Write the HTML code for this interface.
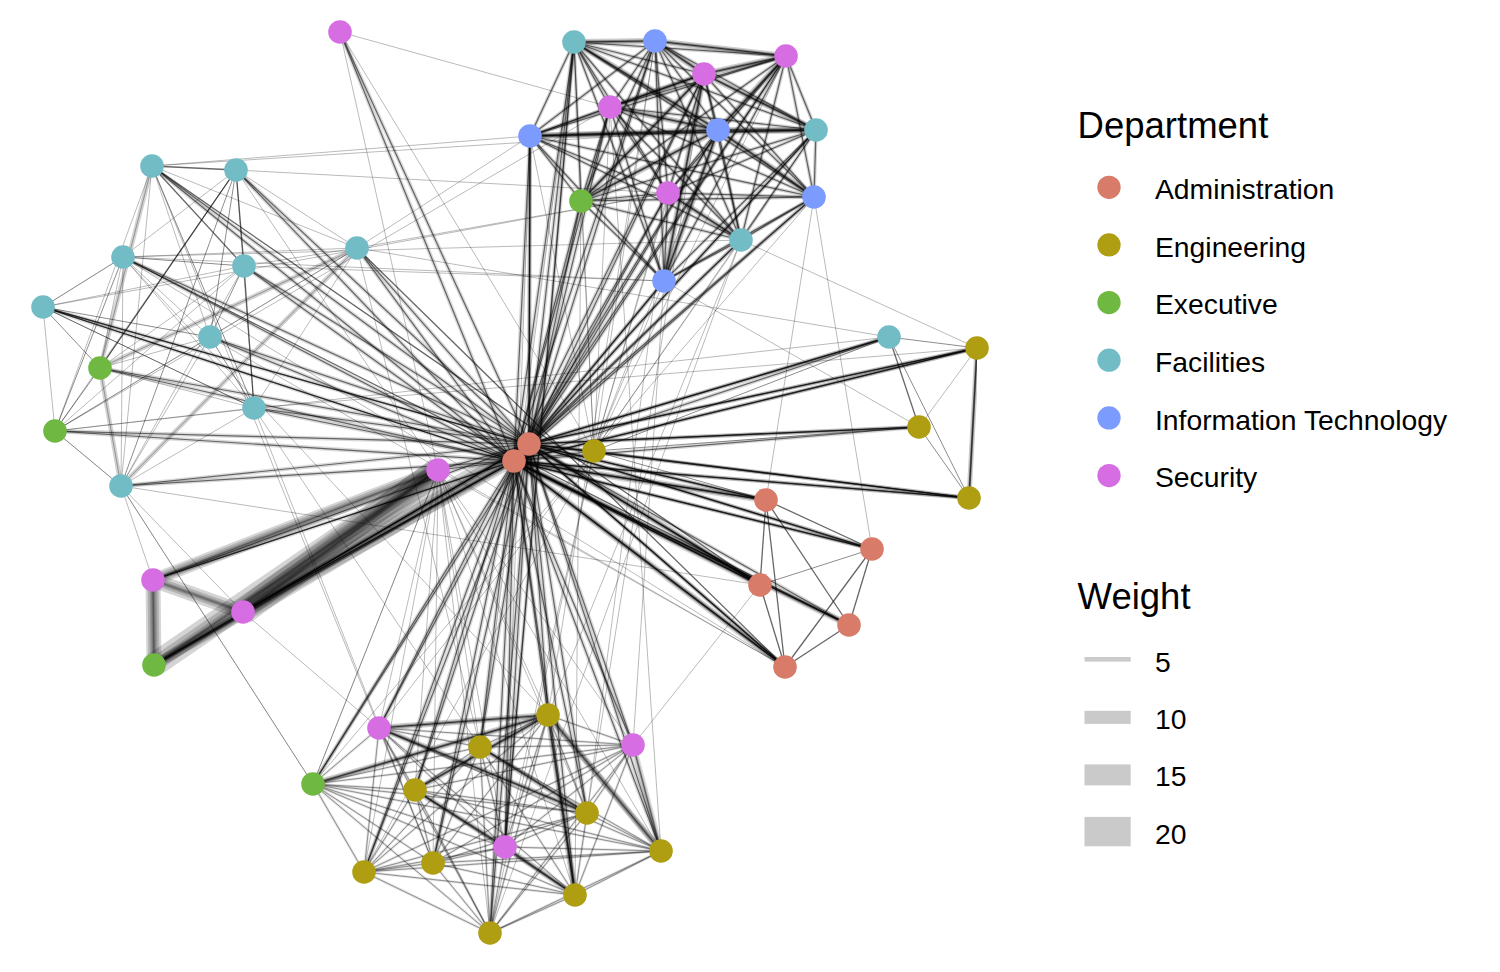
<!DOCTYPE html>
<html><head><meta charset="utf-8"><style>
html,body{margin:0;padding:0;background:#fff;}
body{width:1500px;height:972px;overflow:hidden;position:relative;font-family:"Liberation Sans",sans-serif;}
svg{position:absolute;left:0;top:0;}
</style></head><body>
<svg width="1500" height="972" viewBox="0 0 1500 972">
<defs><filter id="sf" x="0" y="0" width="1" height="1"><feGaussianBlur stdDeviation="0.35"/></filter></defs>
<g fill="none" stroke="#000" stroke-linecap="butt" filter="url(#sf)">
<line x1="529" y1="444" x2="340" y2="32" stroke-width="4" stroke-opacity="0.15"/>
<line x1="529" y1="444" x2="340" y2="32" stroke-width="1.2" stroke-opacity="0.55"/>
<line x1="514" y1="461" x2="340" y2="32" stroke-width="4" stroke-opacity="0.15"/>
<line x1="514" y1="461" x2="340" y2="32" stroke-width="1.2" stroke-opacity="0.55"/>
<line x1="529" y1="444" x2="574" y2="42" stroke-width="4" stroke-opacity="0.15"/>
<line x1="529" y1="444" x2="574" y2="42" stroke-width="1.2" stroke-opacity="0.55"/>
<line x1="514" y1="461" x2="574" y2="42" stroke-width="4" stroke-opacity="0.15"/>
<line x1="514" y1="461" x2="574" y2="42" stroke-width="1.2" stroke-opacity="0.55"/>
<line x1="529" y1="444" x2="655" y2="41" stroke-width="4" stroke-opacity="0.15"/>
<line x1="529" y1="444" x2="655" y2="41" stroke-width="1.2" stroke-opacity="0.55"/>
<line x1="514" y1="461" x2="655" y2="41" stroke-width="4" stroke-opacity="0.15"/>
<line x1="514" y1="461" x2="655" y2="41" stroke-width="1.2" stroke-opacity="0.55"/>
<line x1="529" y1="444" x2="786" y2="56" stroke-width="4" stroke-opacity="0.15"/>
<line x1="529" y1="444" x2="786" y2="56" stroke-width="1.2" stroke-opacity="0.55"/>
<line x1="514" y1="461" x2="786" y2="56" stroke-width="4" stroke-opacity="0.15"/>
<line x1="514" y1="461" x2="786" y2="56" stroke-width="1.2" stroke-opacity="0.55"/>
<line x1="529" y1="444" x2="704" y2="74" stroke-width="4" stroke-opacity="0.15"/>
<line x1="529" y1="444" x2="704" y2="74" stroke-width="1.2" stroke-opacity="0.55"/>
<line x1="514" y1="461" x2="704" y2="74" stroke-width="4" stroke-opacity="0.15"/>
<line x1="514" y1="461" x2="704" y2="74" stroke-width="1.2" stroke-opacity="0.55"/>
<line x1="529" y1="444" x2="610" y2="107" stroke-width="4" stroke-opacity="0.15"/>
<line x1="529" y1="444" x2="610" y2="107" stroke-width="1.2" stroke-opacity="0.55"/>
<line x1="514" y1="461" x2="610" y2="107" stroke-width="4" stroke-opacity="0.15"/>
<line x1="514" y1="461" x2="610" y2="107" stroke-width="1.2" stroke-opacity="0.55"/>
<line x1="529" y1="444" x2="530" y2="136" stroke-width="4" stroke-opacity="0.15"/>
<line x1="529" y1="444" x2="530" y2="136" stroke-width="1.2" stroke-opacity="0.55"/>
<line x1="514" y1="461" x2="530" y2="136" stroke-width="4" stroke-opacity="0.15"/>
<line x1="514" y1="461" x2="530" y2="136" stroke-width="1.2" stroke-opacity="0.55"/>
<line x1="529" y1="444" x2="718" y2="130" stroke-width="4" stroke-opacity="0.15"/>
<line x1="529" y1="444" x2="718" y2="130" stroke-width="1.2" stroke-opacity="0.55"/>
<line x1="514" y1="461" x2="718" y2="130" stroke-width="4" stroke-opacity="0.15"/>
<line x1="514" y1="461" x2="718" y2="130" stroke-width="1.2" stroke-opacity="0.55"/>
<line x1="529" y1="444" x2="816" y2="130" stroke-width="4" stroke-opacity="0.15"/>
<line x1="529" y1="444" x2="816" y2="130" stroke-width="1.2" stroke-opacity="0.55"/>
<line x1="514" y1="461" x2="816" y2="130" stroke-width="4" stroke-opacity="0.15"/>
<line x1="514" y1="461" x2="816" y2="130" stroke-width="1.2" stroke-opacity="0.55"/>
<line x1="529" y1="444" x2="581" y2="201" stroke-width="4" stroke-opacity="0.15"/>
<line x1="529" y1="444" x2="581" y2="201" stroke-width="1.2" stroke-opacity="0.55"/>
<line x1="514" y1="461" x2="581" y2="201" stroke-width="4" stroke-opacity="0.15"/>
<line x1="514" y1="461" x2="581" y2="201" stroke-width="1.2" stroke-opacity="0.55"/>
<line x1="529" y1="444" x2="668" y2="193" stroke-width="4" stroke-opacity="0.15"/>
<line x1="529" y1="444" x2="668" y2="193" stroke-width="1.2" stroke-opacity="0.55"/>
<line x1="514" y1="461" x2="668" y2="193" stroke-width="4" stroke-opacity="0.15"/>
<line x1="514" y1="461" x2="668" y2="193" stroke-width="1.2" stroke-opacity="0.55"/>
<line x1="529" y1="444" x2="814" y2="197" stroke-width="4" stroke-opacity="0.15"/>
<line x1="529" y1="444" x2="814" y2="197" stroke-width="1.2" stroke-opacity="0.55"/>
<line x1="514" y1="461" x2="814" y2="197" stroke-width="4" stroke-opacity="0.15"/>
<line x1="514" y1="461" x2="814" y2="197" stroke-width="1.2" stroke-opacity="0.55"/>
<line x1="529" y1="444" x2="741" y2="240" stroke-width="4" stroke-opacity="0.15"/>
<line x1="529" y1="444" x2="741" y2="240" stroke-width="1.2" stroke-opacity="0.55"/>
<line x1="514" y1="461" x2="741" y2="240" stroke-width="4" stroke-opacity="0.15"/>
<line x1="514" y1="461" x2="741" y2="240" stroke-width="1.2" stroke-opacity="0.55"/>
<line x1="529" y1="444" x2="664" y2="281" stroke-width="4" stroke-opacity="0.15"/>
<line x1="529" y1="444" x2="664" y2="281" stroke-width="1.2" stroke-opacity="0.55"/>
<line x1="514" y1="461" x2="664" y2="281" stroke-width="4" stroke-opacity="0.15"/>
<line x1="514" y1="461" x2="664" y2="281" stroke-width="1.2" stroke-opacity="0.55"/>
<line x1="529" y1="444" x2="152" y2="166" stroke-width="4" stroke-opacity="0.15"/>
<line x1="529" y1="444" x2="152" y2="166" stroke-width="1.2" stroke-opacity="0.55"/>
<line x1="514" y1="461" x2="152" y2="166" stroke-width="4" stroke-opacity="0.15"/>
<line x1="514" y1="461" x2="152" y2="166" stroke-width="1.2" stroke-opacity="0.55"/>
<line x1="529" y1="444" x2="236" y2="170" stroke-width="4" stroke-opacity="0.15"/>
<line x1="529" y1="444" x2="236" y2="170" stroke-width="1.2" stroke-opacity="0.55"/>
<line x1="514" y1="461" x2="236" y2="170" stroke-width="4" stroke-opacity="0.15"/>
<line x1="514" y1="461" x2="236" y2="170" stroke-width="1.2" stroke-opacity="0.55"/>
<line x1="529" y1="444" x2="357" y2="248" stroke-width="4" stroke-opacity="0.15"/>
<line x1="529" y1="444" x2="357" y2="248" stroke-width="1.2" stroke-opacity="0.55"/>
<line x1="514" y1="461" x2="357" y2="248" stroke-width="4" stroke-opacity="0.15"/>
<line x1="514" y1="461" x2="357" y2="248" stroke-width="1.2" stroke-opacity="0.55"/>
<line x1="529" y1="444" x2="123" y2="257" stroke-width="4" stroke-opacity="0.15"/>
<line x1="529" y1="444" x2="123" y2="257" stroke-width="1.2" stroke-opacity="0.55"/>
<line x1="514" y1="461" x2="123" y2="257" stroke-width="4" stroke-opacity="0.15"/>
<line x1="514" y1="461" x2="123" y2="257" stroke-width="1.2" stroke-opacity="0.55"/>
<line x1="529" y1="444" x2="244" y2="266" stroke-width="4" stroke-opacity="0.15"/>
<line x1="529" y1="444" x2="244" y2="266" stroke-width="1.2" stroke-opacity="0.55"/>
<line x1="514" y1="461" x2="244" y2="266" stroke-width="4" stroke-opacity="0.15"/>
<line x1="514" y1="461" x2="244" y2="266" stroke-width="1.2" stroke-opacity="0.55"/>
<line x1="529" y1="444" x2="43" y2="307" stroke-width="4" stroke-opacity="0.15"/>
<line x1="529" y1="444" x2="43" y2="307" stroke-width="1.2" stroke-opacity="0.55"/>
<line x1="514" y1="461" x2="43" y2="307" stroke-width="4" stroke-opacity="0.15"/>
<line x1="514" y1="461" x2="43" y2="307" stroke-width="1.2" stroke-opacity="0.55"/>
<line x1="529" y1="444" x2="210" y2="337" stroke-width="4" stroke-opacity="0.15"/>
<line x1="529" y1="444" x2="210" y2="337" stroke-width="1.2" stroke-opacity="0.55"/>
<line x1="514" y1="461" x2="210" y2="337" stroke-width="4" stroke-opacity="0.15"/>
<line x1="514" y1="461" x2="210" y2="337" stroke-width="1.2" stroke-opacity="0.55"/>
<line x1="529" y1="444" x2="100" y2="368" stroke-width="4" stroke-opacity="0.15"/>
<line x1="529" y1="444" x2="100" y2="368" stroke-width="1.2" stroke-opacity="0.55"/>
<line x1="514" y1="461" x2="100" y2="368" stroke-width="4" stroke-opacity="0.15"/>
<line x1="514" y1="461" x2="100" y2="368" stroke-width="1.2" stroke-opacity="0.55"/>
<line x1="529" y1="444" x2="254" y2="408" stroke-width="4" stroke-opacity="0.15"/>
<line x1="529" y1="444" x2="254" y2="408" stroke-width="1.2" stroke-opacity="0.55"/>
<line x1="514" y1="461" x2="254" y2="408" stroke-width="4" stroke-opacity="0.15"/>
<line x1="514" y1="461" x2="254" y2="408" stroke-width="1.2" stroke-opacity="0.55"/>
<line x1="529" y1="444" x2="55" y2="431" stroke-width="4" stroke-opacity="0.15"/>
<line x1="529" y1="444" x2="55" y2="431" stroke-width="1.2" stroke-opacity="0.55"/>
<line x1="514" y1="461" x2="55" y2="431" stroke-width="4" stroke-opacity="0.15"/>
<line x1="514" y1="461" x2="55" y2="431" stroke-width="1.2" stroke-opacity="0.55"/>
<line x1="529" y1="444" x2="121" y2="486" stroke-width="4" stroke-opacity="0.15"/>
<line x1="529" y1="444" x2="121" y2="486" stroke-width="1.2" stroke-opacity="0.55"/>
<line x1="514" y1="461" x2="121" y2="486" stroke-width="4" stroke-opacity="0.15"/>
<line x1="514" y1="461" x2="121" y2="486" stroke-width="1.2" stroke-opacity="0.55"/>
<line x1="529" y1="444" x2="438" y2="470" stroke-width="4" stroke-opacity="0.15"/>
<line x1="529" y1="444" x2="438" y2="470" stroke-width="1.2" stroke-opacity="0.55"/>
<line x1="514" y1="461" x2="438" y2="470" stroke-width="4" stroke-opacity="0.15"/>
<line x1="514" y1="461" x2="438" y2="470" stroke-width="1.2" stroke-opacity="0.55"/>
<line x1="529" y1="444" x2="594" y2="451" stroke-width="4" stroke-opacity="0.15"/>
<line x1="529" y1="444" x2="594" y2="451" stroke-width="1.2" stroke-opacity="0.55"/>
<line x1="514" y1="461" x2="594" y2="451" stroke-width="4" stroke-opacity="0.15"/>
<line x1="514" y1="461" x2="594" y2="451" stroke-width="1.2" stroke-opacity="0.55"/>
<line x1="529" y1="444" x2="889" y2="337" stroke-width="4" stroke-opacity="0.15"/>
<line x1="529" y1="444" x2="889" y2="337" stroke-width="1.2" stroke-opacity="0.55"/>
<line x1="514" y1="461" x2="889" y2="337" stroke-width="4" stroke-opacity="0.15"/>
<line x1="514" y1="461" x2="889" y2="337" stroke-width="1.2" stroke-opacity="0.55"/>
<line x1="529" y1="444" x2="977" y2="348" stroke-width="4" stroke-opacity="0.15"/>
<line x1="529" y1="444" x2="977" y2="348" stroke-width="1.2" stroke-opacity="0.55"/>
<line x1="514" y1="461" x2="977" y2="348" stroke-width="4" stroke-opacity="0.15"/>
<line x1="514" y1="461" x2="977" y2="348" stroke-width="1.2" stroke-opacity="0.55"/>
<line x1="529" y1="444" x2="919" y2="427" stroke-width="4" stroke-opacity="0.15"/>
<line x1="529" y1="444" x2="919" y2="427" stroke-width="1.2" stroke-opacity="0.55"/>
<line x1="514" y1="461" x2="919" y2="427" stroke-width="4" stroke-opacity="0.15"/>
<line x1="514" y1="461" x2="919" y2="427" stroke-width="1.2" stroke-opacity="0.55"/>
<line x1="529" y1="444" x2="969" y2="498" stroke-width="4" stroke-opacity="0.15"/>
<line x1="529" y1="444" x2="969" y2="498" stroke-width="1.2" stroke-opacity="0.55"/>
<line x1="514" y1="461" x2="969" y2="498" stroke-width="4" stroke-opacity="0.15"/>
<line x1="514" y1="461" x2="969" y2="498" stroke-width="1.2" stroke-opacity="0.55"/>
<line x1="529" y1="444" x2="766" y2="500" stroke-width="4" stroke-opacity="0.15"/>
<line x1="529" y1="444" x2="766" y2="500" stroke-width="1.2" stroke-opacity="0.55"/>
<line x1="514" y1="461" x2="766" y2="500" stroke-width="4" stroke-opacity="0.15"/>
<line x1="514" y1="461" x2="766" y2="500" stroke-width="1.2" stroke-opacity="0.55"/>
<line x1="529" y1="444" x2="872" y2="549" stroke-width="4" stroke-opacity="0.15"/>
<line x1="529" y1="444" x2="872" y2="549" stroke-width="1.2" stroke-opacity="0.55"/>
<line x1="514" y1="461" x2="872" y2="549" stroke-width="4" stroke-opacity="0.15"/>
<line x1="514" y1="461" x2="872" y2="549" stroke-width="1.2" stroke-opacity="0.55"/>
<line x1="529" y1="444" x2="760" y2="585" stroke-width="4" stroke-opacity="0.15"/>
<line x1="529" y1="444" x2="760" y2="585" stroke-width="1.2" stroke-opacity="0.55"/>
<line x1="514" y1="461" x2="760" y2="585" stroke-width="4" stroke-opacity="0.15"/>
<line x1="514" y1="461" x2="760" y2="585" stroke-width="1.2" stroke-opacity="0.55"/>
<line x1="529" y1="444" x2="849" y2="625" stroke-width="4" stroke-opacity="0.15"/>
<line x1="529" y1="444" x2="849" y2="625" stroke-width="1.2" stroke-opacity="0.55"/>
<line x1="514" y1="461" x2="849" y2="625" stroke-width="4" stroke-opacity="0.15"/>
<line x1="514" y1="461" x2="849" y2="625" stroke-width="1.2" stroke-opacity="0.55"/>
<line x1="529" y1="444" x2="785" y2="667" stroke-width="4" stroke-opacity="0.15"/>
<line x1="529" y1="444" x2="785" y2="667" stroke-width="1.2" stroke-opacity="0.55"/>
<line x1="514" y1="461" x2="785" y2="667" stroke-width="4" stroke-opacity="0.15"/>
<line x1="514" y1="461" x2="785" y2="667" stroke-width="1.2" stroke-opacity="0.55"/>
<line x1="529" y1="444" x2="153" y2="580" stroke-width="4" stroke-opacity="0.15"/>
<line x1="529" y1="444" x2="153" y2="580" stroke-width="1.2" stroke-opacity="0.55"/>
<line x1="514" y1="461" x2="153" y2="580" stroke-width="4" stroke-opacity="0.15"/>
<line x1="514" y1="461" x2="153" y2="580" stroke-width="1.2" stroke-opacity="0.55"/>
<line x1="529" y1="444" x2="243" y2="612" stroke-width="4" stroke-opacity="0.15"/>
<line x1="529" y1="444" x2="243" y2="612" stroke-width="1.2" stroke-opacity="0.55"/>
<line x1="514" y1="461" x2="243" y2="612" stroke-width="4" stroke-opacity="0.15"/>
<line x1="514" y1="461" x2="243" y2="612" stroke-width="1.2" stroke-opacity="0.55"/>
<line x1="529" y1="444" x2="154" y2="665" stroke-width="4" stroke-opacity="0.15"/>
<line x1="529" y1="444" x2="154" y2="665" stroke-width="1.2" stroke-opacity="0.55"/>
<line x1="514" y1="461" x2="154" y2="665" stroke-width="4" stroke-opacity="0.15"/>
<line x1="514" y1="461" x2="154" y2="665" stroke-width="1.2" stroke-opacity="0.55"/>
<line x1="529" y1="444" x2="548" y2="715" stroke-width="4" stroke-opacity="0.15"/>
<line x1="529" y1="444" x2="548" y2="715" stroke-width="1.2" stroke-opacity="0.55"/>
<line x1="514" y1="461" x2="548" y2="715" stroke-width="4" stroke-opacity="0.15"/>
<line x1="514" y1="461" x2="548" y2="715" stroke-width="1.2" stroke-opacity="0.55"/>
<line x1="529" y1="444" x2="379" y2="728" stroke-width="4" stroke-opacity="0.15"/>
<line x1="529" y1="444" x2="379" y2="728" stroke-width="1.2" stroke-opacity="0.55"/>
<line x1="514" y1="461" x2="379" y2="728" stroke-width="4" stroke-opacity="0.15"/>
<line x1="514" y1="461" x2="379" y2="728" stroke-width="1.2" stroke-opacity="0.55"/>
<line x1="529" y1="444" x2="633" y2="745" stroke-width="4" stroke-opacity="0.15"/>
<line x1="529" y1="444" x2="633" y2="745" stroke-width="1.2" stroke-opacity="0.55"/>
<line x1="514" y1="461" x2="633" y2="745" stroke-width="4" stroke-opacity="0.15"/>
<line x1="514" y1="461" x2="633" y2="745" stroke-width="1.2" stroke-opacity="0.55"/>
<line x1="529" y1="444" x2="480" y2="747" stroke-width="4" stroke-opacity="0.15"/>
<line x1="529" y1="444" x2="480" y2="747" stroke-width="1.2" stroke-opacity="0.55"/>
<line x1="514" y1="461" x2="480" y2="747" stroke-width="4" stroke-opacity="0.15"/>
<line x1="514" y1="461" x2="480" y2="747" stroke-width="1.2" stroke-opacity="0.55"/>
<line x1="529" y1="444" x2="313" y2="784" stroke-width="4" stroke-opacity="0.15"/>
<line x1="529" y1="444" x2="313" y2="784" stroke-width="1.2" stroke-opacity="0.55"/>
<line x1="514" y1="461" x2="313" y2="784" stroke-width="4" stroke-opacity="0.15"/>
<line x1="514" y1="461" x2="313" y2="784" stroke-width="1.2" stroke-opacity="0.55"/>
<line x1="529" y1="444" x2="415" y2="790" stroke-width="4" stroke-opacity="0.15"/>
<line x1="529" y1="444" x2="415" y2="790" stroke-width="1.2" stroke-opacity="0.55"/>
<line x1="514" y1="461" x2="415" y2="790" stroke-width="4" stroke-opacity="0.15"/>
<line x1="514" y1="461" x2="415" y2="790" stroke-width="1.2" stroke-opacity="0.55"/>
<line x1="529" y1="444" x2="587" y2="813" stroke-width="4" stroke-opacity="0.15"/>
<line x1="529" y1="444" x2="587" y2="813" stroke-width="1.2" stroke-opacity="0.55"/>
<line x1="514" y1="461" x2="587" y2="813" stroke-width="4" stroke-opacity="0.15"/>
<line x1="514" y1="461" x2="587" y2="813" stroke-width="1.2" stroke-opacity="0.55"/>
<line x1="529" y1="444" x2="505" y2="847" stroke-width="4" stroke-opacity="0.15"/>
<line x1="529" y1="444" x2="505" y2="847" stroke-width="1.2" stroke-opacity="0.55"/>
<line x1="514" y1="461" x2="505" y2="847" stroke-width="4" stroke-opacity="0.15"/>
<line x1="514" y1="461" x2="505" y2="847" stroke-width="1.2" stroke-opacity="0.55"/>
<line x1="529" y1="444" x2="661" y2="851" stroke-width="4" stroke-opacity="0.15"/>
<line x1="529" y1="444" x2="661" y2="851" stroke-width="1.2" stroke-opacity="0.55"/>
<line x1="514" y1="461" x2="661" y2="851" stroke-width="4" stroke-opacity="0.15"/>
<line x1="514" y1="461" x2="661" y2="851" stroke-width="1.2" stroke-opacity="0.55"/>
<line x1="529" y1="444" x2="364" y2="872" stroke-width="4" stroke-opacity="0.15"/>
<line x1="529" y1="444" x2="364" y2="872" stroke-width="1.2" stroke-opacity="0.55"/>
<line x1="514" y1="461" x2="364" y2="872" stroke-width="4" stroke-opacity="0.15"/>
<line x1="514" y1="461" x2="364" y2="872" stroke-width="1.2" stroke-opacity="0.55"/>
<line x1="529" y1="444" x2="433" y2="863" stroke-width="4" stroke-opacity="0.15"/>
<line x1="529" y1="444" x2="433" y2="863" stroke-width="1.2" stroke-opacity="0.55"/>
<line x1="514" y1="461" x2="433" y2="863" stroke-width="4" stroke-opacity="0.15"/>
<line x1="514" y1="461" x2="433" y2="863" stroke-width="1.2" stroke-opacity="0.55"/>
<line x1="529" y1="444" x2="575" y2="895" stroke-width="4" stroke-opacity="0.15"/>
<line x1="529" y1="444" x2="575" y2="895" stroke-width="1.2" stroke-opacity="0.55"/>
<line x1="514" y1="461" x2="575" y2="895" stroke-width="4" stroke-opacity="0.15"/>
<line x1="514" y1="461" x2="575" y2="895" stroke-width="1.2" stroke-opacity="0.55"/>
<line x1="529" y1="444" x2="490" y2="933" stroke-width="4" stroke-opacity="0.15"/>
<line x1="529" y1="444" x2="490" y2="933" stroke-width="1.2" stroke-opacity="0.55"/>
<line x1="514" y1="461" x2="490" y2="933" stroke-width="4" stroke-opacity="0.15"/>
<line x1="514" y1="461" x2="490" y2="933" stroke-width="1.2" stroke-opacity="0.55"/>
<line x1="529" y1="444" x2="514" y2="461" stroke-width="1.3" stroke-opacity="0.6"/>
<line x1="574" y1="42" x2="655" y2="41" stroke-width="6" stroke-opacity="0.2"/>
<line x1="574" y1="42" x2="655" y2="41" stroke-width="3" stroke-opacity="0.35"/>
<line x1="574" y1="42" x2="655" y2="41" stroke-width="1.2" stroke-opacity="0.65"/>
<line x1="574" y1="42" x2="786" y2="56" stroke-width="3.5" stroke-opacity="0.18"/>
<line x1="574" y1="42" x2="786" y2="56" stroke-width="1.2" stroke-opacity="0.55"/>
<line x1="574" y1="42" x2="704" y2="74" stroke-width="3.5" stroke-opacity="0.18"/>
<line x1="574" y1="42" x2="704" y2="74" stroke-width="1.2" stroke-opacity="0.55"/>
<line x1="574" y1="42" x2="610" y2="107" stroke-width="3.5" stroke-opacity="0.18"/>
<line x1="574" y1="42" x2="610" y2="107" stroke-width="1.2" stroke-opacity="0.55"/>
<line x1="574" y1="42" x2="530" y2="136" stroke-width="3.5" stroke-opacity="0.18"/>
<line x1="574" y1="42" x2="530" y2="136" stroke-width="1.2" stroke-opacity="0.55"/>
<line x1="574" y1="42" x2="718" y2="130" stroke-width="6" stroke-opacity="0.2"/>
<line x1="574" y1="42" x2="718" y2="130" stroke-width="3" stroke-opacity="0.35"/>
<line x1="574" y1="42" x2="718" y2="130" stroke-width="1.2" stroke-opacity="0.65"/>
<line x1="574" y1="42" x2="816" y2="130" stroke-width="3.5" stroke-opacity="0.18"/>
<line x1="574" y1="42" x2="816" y2="130" stroke-width="1.2" stroke-opacity="0.55"/>
<line x1="574" y1="42" x2="581" y2="201" stroke-width="3.5" stroke-opacity="0.18"/>
<line x1="574" y1="42" x2="581" y2="201" stroke-width="1.2" stroke-opacity="0.55"/>
<line x1="574" y1="42" x2="668" y2="193" stroke-width="3.5" stroke-opacity="0.18"/>
<line x1="574" y1="42" x2="668" y2="193" stroke-width="1.2" stroke-opacity="0.55"/>
<line x1="574" y1="42" x2="814" y2="197" stroke-width="3.5" stroke-opacity="0.18"/>
<line x1="574" y1="42" x2="814" y2="197" stroke-width="1.2" stroke-opacity="0.55"/>
<line x1="574" y1="42" x2="741" y2="240" stroke-width="3.5" stroke-opacity="0.18"/>
<line x1="574" y1="42" x2="741" y2="240" stroke-width="1.2" stroke-opacity="0.55"/>
<line x1="574" y1="42" x2="664" y2="281" stroke-width="3.5" stroke-opacity="0.18"/>
<line x1="574" y1="42" x2="664" y2="281" stroke-width="1.2" stroke-opacity="0.55"/>
<line x1="655" y1="41" x2="786" y2="56" stroke-width="6" stroke-opacity="0.2"/>
<line x1="655" y1="41" x2="786" y2="56" stroke-width="3" stroke-opacity="0.35"/>
<line x1="655" y1="41" x2="786" y2="56" stroke-width="1.2" stroke-opacity="0.65"/>
<line x1="655" y1="41" x2="704" y2="74" stroke-width="6" stroke-opacity="0.2"/>
<line x1="655" y1="41" x2="704" y2="74" stroke-width="3" stroke-opacity="0.35"/>
<line x1="655" y1="41" x2="704" y2="74" stroke-width="1.2" stroke-opacity="0.65"/>
<line x1="655" y1="41" x2="610" y2="107" stroke-width="3.5" stroke-opacity="0.18"/>
<line x1="655" y1="41" x2="610" y2="107" stroke-width="1.2" stroke-opacity="0.55"/>
<line x1="655" y1="41" x2="530" y2="136" stroke-width="3.5" stroke-opacity="0.18"/>
<line x1="655" y1="41" x2="530" y2="136" stroke-width="1.2" stroke-opacity="0.55"/>
<line x1="655" y1="41" x2="718" y2="130" stroke-width="3.5" stroke-opacity="0.18"/>
<line x1="655" y1="41" x2="718" y2="130" stroke-width="1.2" stroke-opacity="0.55"/>
<line x1="655" y1="41" x2="816" y2="130" stroke-width="3.5" stroke-opacity="0.18"/>
<line x1="655" y1="41" x2="816" y2="130" stroke-width="1.2" stroke-opacity="0.55"/>
<line x1="655" y1="41" x2="581" y2="201" stroke-width="3.5" stroke-opacity="0.18"/>
<line x1="655" y1="41" x2="581" y2="201" stroke-width="1.2" stroke-opacity="0.55"/>
<line x1="655" y1="41" x2="668" y2="193" stroke-width="3.5" stroke-opacity="0.18"/>
<line x1="655" y1="41" x2="668" y2="193" stroke-width="1.2" stroke-opacity="0.55"/>
<line x1="655" y1="41" x2="814" y2="197" stroke-width="3.5" stroke-opacity="0.18"/>
<line x1="655" y1="41" x2="814" y2="197" stroke-width="1.2" stroke-opacity="0.55"/>
<line x1="655" y1="41" x2="741" y2="240" stroke-width="3.5" stroke-opacity="0.18"/>
<line x1="655" y1="41" x2="741" y2="240" stroke-width="1.2" stroke-opacity="0.55"/>
<line x1="655" y1="41" x2="664" y2="281" stroke-width="3.5" stroke-opacity="0.18"/>
<line x1="655" y1="41" x2="664" y2="281" stroke-width="1.2" stroke-opacity="0.55"/>
<line x1="786" y1="56" x2="704" y2="74" stroke-width="6" stroke-opacity="0.2"/>
<line x1="786" y1="56" x2="704" y2="74" stroke-width="3" stroke-opacity="0.35"/>
<line x1="786" y1="56" x2="704" y2="74" stroke-width="1.2" stroke-opacity="0.65"/>
<line x1="786" y1="56" x2="610" y2="107" stroke-width="3.5" stroke-opacity="0.18"/>
<line x1="786" y1="56" x2="610" y2="107" stroke-width="1.2" stroke-opacity="0.55"/>
<line x1="786" y1="56" x2="530" y2="136" stroke-width="3.5" stroke-opacity="0.18"/>
<line x1="786" y1="56" x2="530" y2="136" stroke-width="1.2" stroke-opacity="0.55"/>
<line x1="786" y1="56" x2="718" y2="130" stroke-width="6" stroke-opacity="0.2"/>
<line x1="786" y1="56" x2="718" y2="130" stroke-width="3" stroke-opacity="0.35"/>
<line x1="786" y1="56" x2="718" y2="130" stroke-width="1.2" stroke-opacity="0.65"/>
<line x1="786" y1="56" x2="816" y2="130" stroke-width="3.5" stroke-opacity="0.18"/>
<line x1="786" y1="56" x2="816" y2="130" stroke-width="1.2" stroke-opacity="0.55"/>
<line x1="786" y1="56" x2="581" y2="201" stroke-width="3.5" stroke-opacity="0.18"/>
<line x1="786" y1="56" x2="581" y2="201" stroke-width="1.2" stroke-opacity="0.55"/>
<line x1="786" y1="56" x2="668" y2="193" stroke-width="3.5" stroke-opacity="0.18"/>
<line x1="786" y1="56" x2="668" y2="193" stroke-width="1.2" stroke-opacity="0.55"/>
<line x1="786" y1="56" x2="814" y2="197" stroke-width="3.5" stroke-opacity="0.18"/>
<line x1="786" y1="56" x2="814" y2="197" stroke-width="1.2" stroke-opacity="0.55"/>
<line x1="786" y1="56" x2="741" y2="240" stroke-width="3.5" stroke-opacity="0.18"/>
<line x1="786" y1="56" x2="741" y2="240" stroke-width="1.2" stroke-opacity="0.55"/>
<line x1="786" y1="56" x2="664" y2="281" stroke-width="3.5" stroke-opacity="0.18"/>
<line x1="786" y1="56" x2="664" y2="281" stroke-width="1.2" stroke-opacity="0.55"/>
<line x1="704" y1="74" x2="610" y2="107" stroke-width="6" stroke-opacity="0.2"/>
<line x1="704" y1="74" x2="610" y2="107" stroke-width="3" stroke-opacity="0.35"/>
<line x1="704" y1="74" x2="610" y2="107" stroke-width="1.2" stroke-opacity="0.65"/>
<line x1="704" y1="74" x2="530" y2="136" stroke-width="3.5" stroke-opacity="0.18"/>
<line x1="704" y1="74" x2="530" y2="136" stroke-width="1.2" stroke-opacity="0.55"/>
<line x1="704" y1="74" x2="718" y2="130" stroke-width="3.5" stroke-opacity="0.18"/>
<line x1="704" y1="74" x2="718" y2="130" stroke-width="1.2" stroke-opacity="0.55"/>
<line x1="704" y1="74" x2="816" y2="130" stroke-width="6" stroke-opacity="0.2"/>
<line x1="704" y1="74" x2="816" y2="130" stroke-width="3" stroke-opacity="0.35"/>
<line x1="704" y1="74" x2="816" y2="130" stroke-width="1.2" stroke-opacity="0.65"/>
<line x1="704" y1="74" x2="581" y2="201" stroke-width="6" stroke-opacity="0.2"/>
<line x1="704" y1="74" x2="581" y2="201" stroke-width="3" stroke-opacity="0.35"/>
<line x1="704" y1="74" x2="581" y2="201" stroke-width="1.2" stroke-opacity="0.65"/>
<line x1="704" y1="74" x2="668" y2="193" stroke-width="3.5" stroke-opacity="0.18"/>
<line x1="704" y1="74" x2="668" y2="193" stroke-width="1.2" stroke-opacity="0.55"/>
<line x1="704" y1="74" x2="814" y2="197" stroke-width="3.5" stroke-opacity="0.18"/>
<line x1="704" y1="74" x2="814" y2="197" stroke-width="1.2" stroke-opacity="0.55"/>
<line x1="704" y1="74" x2="741" y2="240" stroke-width="3.5" stroke-opacity="0.18"/>
<line x1="704" y1="74" x2="741" y2="240" stroke-width="1.2" stroke-opacity="0.55"/>
<line x1="704" y1="74" x2="664" y2="281" stroke-width="6" stroke-opacity="0.2"/>
<line x1="704" y1="74" x2="664" y2="281" stroke-width="3" stroke-opacity="0.35"/>
<line x1="704" y1="74" x2="664" y2="281" stroke-width="1.2" stroke-opacity="0.65"/>
<line x1="610" y1="107" x2="530" y2="136" stroke-width="3.5" stroke-opacity="0.18"/>
<line x1="610" y1="107" x2="530" y2="136" stroke-width="1.2" stroke-opacity="0.55"/>
<line x1="610" y1="107" x2="718" y2="130" stroke-width="6" stroke-opacity="0.2"/>
<line x1="610" y1="107" x2="718" y2="130" stroke-width="3" stroke-opacity="0.35"/>
<line x1="610" y1="107" x2="718" y2="130" stroke-width="1.2" stroke-opacity="0.65"/>
<line x1="610" y1="107" x2="816" y2="130" stroke-width="3.5" stroke-opacity="0.18"/>
<line x1="610" y1="107" x2="816" y2="130" stroke-width="1.2" stroke-opacity="0.55"/>
<line x1="610" y1="107" x2="581" y2="201" stroke-width="3.5" stroke-opacity="0.18"/>
<line x1="610" y1="107" x2="581" y2="201" stroke-width="1.2" stroke-opacity="0.55"/>
<line x1="610" y1="107" x2="668" y2="193" stroke-width="3.5" stroke-opacity="0.18"/>
<line x1="610" y1="107" x2="668" y2="193" stroke-width="1.2" stroke-opacity="0.55"/>
<line x1="610" y1="107" x2="814" y2="197" stroke-width="3.5" stroke-opacity="0.18"/>
<line x1="610" y1="107" x2="814" y2="197" stroke-width="1.2" stroke-opacity="0.55"/>
<line x1="610" y1="107" x2="741" y2="240" stroke-width="3.5" stroke-opacity="0.18"/>
<line x1="610" y1="107" x2="741" y2="240" stroke-width="1.2" stroke-opacity="0.55"/>
<line x1="610" y1="107" x2="664" y2="281" stroke-width="3.5" stroke-opacity="0.18"/>
<line x1="610" y1="107" x2="664" y2="281" stroke-width="1.2" stroke-opacity="0.55"/>
<line x1="530" y1="136" x2="718" y2="130" stroke-width="6" stroke-opacity="0.2"/>
<line x1="530" y1="136" x2="718" y2="130" stroke-width="3" stroke-opacity="0.35"/>
<line x1="530" y1="136" x2="718" y2="130" stroke-width="1.2" stroke-opacity="0.65"/>
<line x1="530" y1="136" x2="816" y2="130" stroke-width="6" stroke-opacity="0.2"/>
<line x1="530" y1="136" x2="816" y2="130" stroke-width="3" stroke-opacity="0.35"/>
<line x1="530" y1="136" x2="816" y2="130" stroke-width="1.2" stroke-opacity="0.65"/>
<line x1="530" y1="136" x2="581" y2="201" stroke-width="3.5" stroke-opacity="0.18"/>
<line x1="530" y1="136" x2="581" y2="201" stroke-width="1.2" stroke-opacity="0.55"/>
<line x1="530" y1="136" x2="668" y2="193" stroke-width="3.5" stroke-opacity="0.18"/>
<line x1="530" y1="136" x2="668" y2="193" stroke-width="1.2" stroke-opacity="0.55"/>
<line x1="530" y1="136" x2="814" y2="197" stroke-width="3.5" stroke-opacity="0.18"/>
<line x1="530" y1="136" x2="814" y2="197" stroke-width="1.2" stroke-opacity="0.55"/>
<line x1="530" y1="136" x2="741" y2="240" stroke-width="3.5" stroke-opacity="0.18"/>
<line x1="530" y1="136" x2="741" y2="240" stroke-width="1.2" stroke-opacity="0.55"/>
<line x1="530" y1="136" x2="664" y2="281" stroke-width="3.5" stroke-opacity="0.18"/>
<line x1="530" y1="136" x2="664" y2="281" stroke-width="1.2" stroke-opacity="0.55"/>
<line x1="718" y1="130" x2="816" y2="130" stroke-width="6" stroke-opacity="0.2"/>
<line x1="718" y1="130" x2="816" y2="130" stroke-width="3" stroke-opacity="0.35"/>
<line x1="718" y1="130" x2="816" y2="130" stroke-width="1.2" stroke-opacity="0.65"/>
<line x1="718" y1="130" x2="581" y2="201" stroke-width="6" stroke-opacity="0.2"/>
<line x1="718" y1="130" x2="581" y2="201" stroke-width="3" stroke-opacity="0.35"/>
<line x1="718" y1="130" x2="581" y2="201" stroke-width="1.2" stroke-opacity="0.65"/>
<line x1="718" y1="130" x2="668" y2="193" stroke-width="3.5" stroke-opacity="0.18"/>
<line x1="718" y1="130" x2="668" y2="193" stroke-width="1.2" stroke-opacity="0.55"/>
<line x1="718" y1="130" x2="814" y2="197" stroke-width="6" stroke-opacity="0.2"/>
<line x1="718" y1="130" x2="814" y2="197" stroke-width="3" stroke-opacity="0.35"/>
<line x1="718" y1="130" x2="814" y2="197" stroke-width="1.2" stroke-opacity="0.65"/>
<line x1="718" y1="130" x2="741" y2="240" stroke-width="3.5" stroke-opacity="0.18"/>
<line x1="718" y1="130" x2="741" y2="240" stroke-width="1.2" stroke-opacity="0.55"/>
<line x1="718" y1="130" x2="664" y2="281" stroke-width="6" stroke-opacity="0.2"/>
<line x1="718" y1="130" x2="664" y2="281" stroke-width="3" stroke-opacity="0.35"/>
<line x1="718" y1="130" x2="664" y2="281" stroke-width="1.2" stroke-opacity="0.65"/>
<line x1="816" y1="130" x2="581" y2="201" stroke-width="3.5" stroke-opacity="0.18"/>
<line x1="816" y1="130" x2="581" y2="201" stroke-width="1.2" stroke-opacity="0.55"/>
<line x1="816" y1="130" x2="668" y2="193" stroke-width="3.5" stroke-opacity="0.18"/>
<line x1="816" y1="130" x2="668" y2="193" stroke-width="1.2" stroke-opacity="0.55"/>
<line x1="816" y1="130" x2="814" y2="197" stroke-width="3.5" stroke-opacity="0.18"/>
<line x1="816" y1="130" x2="814" y2="197" stroke-width="1.2" stroke-opacity="0.55"/>
<line x1="816" y1="130" x2="741" y2="240" stroke-width="3.5" stroke-opacity="0.18"/>
<line x1="816" y1="130" x2="741" y2="240" stroke-width="1.2" stroke-opacity="0.55"/>
<line x1="816" y1="130" x2="664" y2="281" stroke-width="3.5" stroke-opacity="0.18"/>
<line x1="816" y1="130" x2="664" y2="281" stroke-width="1.2" stroke-opacity="0.55"/>
<line x1="581" y1="201" x2="668" y2="193" stroke-width="3.5" stroke-opacity="0.18"/>
<line x1="581" y1="201" x2="668" y2="193" stroke-width="1.2" stroke-opacity="0.55"/>
<line x1="581" y1="201" x2="814" y2="197" stroke-width="3.5" stroke-opacity="0.18"/>
<line x1="581" y1="201" x2="814" y2="197" stroke-width="1.2" stroke-opacity="0.55"/>
<line x1="581" y1="201" x2="741" y2="240" stroke-width="3.5" stroke-opacity="0.18"/>
<line x1="581" y1="201" x2="741" y2="240" stroke-width="1.2" stroke-opacity="0.55"/>
<line x1="581" y1="201" x2="664" y2="281" stroke-width="3.5" stroke-opacity="0.18"/>
<line x1="581" y1="201" x2="664" y2="281" stroke-width="1.2" stroke-opacity="0.55"/>
<line x1="668" y1="193" x2="814" y2="197" stroke-width="3.5" stroke-opacity="0.18"/>
<line x1="668" y1="193" x2="814" y2="197" stroke-width="1.2" stroke-opacity="0.55"/>
<line x1="668" y1="193" x2="741" y2="240" stroke-width="6" stroke-opacity="0.2"/>
<line x1="668" y1="193" x2="741" y2="240" stroke-width="3" stroke-opacity="0.35"/>
<line x1="668" y1="193" x2="741" y2="240" stroke-width="1.2" stroke-opacity="0.65"/>
<line x1="668" y1="193" x2="664" y2="281" stroke-width="3.5" stroke-opacity="0.18"/>
<line x1="668" y1="193" x2="664" y2="281" stroke-width="1.2" stroke-opacity="0.55"/>
<line x1="814" y1="197" x2="741" y2="240" stroke-width="3.5" stroke-opacity="0.18"/>
<line x1="814" y1="197" x2="741" y2="240" stroke-width="1.2" stroke-opacity="0.55"/>
<line x1="814" y1="197" x2="664" y2="281" stroke-width="3.5" stroke-opacity="0.18"/>
<line x1="814" y1="197" x2="664" y2="281" stroke-width="1.2" stroke-opacity="0.55"/>
<line x1="741" y1="240" x2="664" y2="281" stroke-width="3.5" stroke-opacity="0.18"/>
<line x1="741" y1="240" x2="664" y2="281" stroke-width="1.2" stroke-opacity="0.55"/>
<line x1="548" y1="715" x2="379" y2="728" stroke-width="6" stroke-opacity="0.2"/>
<line x1="548" y1="715" x2="379" y2="728" stroke-width="3" stroke-opacity="0.35"/>
<line x1="548" y1="715" x2="379" y2="728" stroke-width="1.2" stroke-opacity="0.65"/>
<line x1="548" y1="715" x2="633" y2="745" stroke-width="2.5" stroke-opacity="0.12"/>
<line x1="548" y1="715" x2="633" y2="745" stroke-width="1.0" stroke-opacity="0.36"/>
<line x1="548" y1="715" x2="480" y2="747" stroke-width="2.5" stroke-opacity="0.12"/>
<line x1="548" y1="715" x2="480" y2="747" stroke-width="1.0" stroke-opacity="0.36"/>
<line x1="548" y1="715" x2="313" y2="784" stroke-width="6" stroke-opacity="0.2"/>
<line x1="548" y1="715" x2="313" y2="784" stroke-width="3" stroke-opacity="0.35"/>
<line x1="548" y1="715" x2="313" y2="784" stroke-width="1.2" stroke-opacity="0.65"/>
<line x1="548" y1="715" x2="415" y2="790" stroke-width="6" stroke-opacity="0.2"/>
<line x1="548" y1="715" x2="415" y2="790" stroke-width="3" stroke-opacity="0.35"/>
<line x1="548" y1="715" x2="415" y2="790" stroke-width="1.2" stroke-opacity="0.65"/>
<line x1="548" y1="715" x2="587" y2="813" stroke-width="2.5" stroke-opacity="0.12"/>
<line x1="548" y1="715" x2="587" y2="813" stroke-width="1.0" stroke-opacity="0.36"/>
<line x1="548" y1="715" x2="505" y2="847" stroke-width="2.5" stroke-opacity="0.12"/>
<line x1="548" y1="715" x2="505" y2="847" stroke-width="1.0" stroke-opacity="0.36"/>
<line x1="548" y1="715" x2="661" y2="851" stroke-width="2.5" stroke-opacity="0.12"/>
<line x1="548" y1="715" x2="661" y2="851" stroke-width="1.0" stroke-opacity="0.36"/>
<line x1="548" y1="715" x2="364" y2="872" stroke-width="2.5" stroke-opacity="0.12"/>
<line x1="548" y1="715" x2="364" y2="872" stroke-width="1.0" stroke-opacity="0.36"/>
<line x1="548" y1="715" x2="433" y2="863" stroke-width="2.5" stroke-opacity="0.12"/>
<line x1="548" y1="715" x2="433" y2="863" stroke-width="1.0" stroke-opacity="0.36"/>
<line x1="548" y1="715" x2="575" y2="895" stroke-width="6" stroke-opacity="0.2"/>
<line x1="548" y1="715" x2="575" y2="895" stroke-width="3" stroke-opacity="0.35"/>
<line x1="548" y1="715" x2="575" y2="895" stroke-width="1.2" stroke-opacity="0.65"/>
<line x1="548" y1="715" x2="490" y2="933" stroke-width="2.5" stroke-opacity="0.12"/>
<line x1="548" y1="715" x2="490" y2="933" stroke-width="1.0" stroke-opacity="0.36"/>
<line x1="379" y1="728" x2="633" y2="745" stroke-width="2.5" stroke-opacity="0.12"/>
<line x1="379" y1="728" x2="633" y2="745" stroke-width="1.0" stroke-opacity="0.36"/>
<line x1="379" y1="728" x2="480" y2="747" stroke-width="2.5" stroke-opacity="0.12"/>
<line x1="379" y1="728" x2="480" y2="747" stroke-width="1.0" stroke-opacity="0.36"/>
<line x1="379" y1="728" x2="313" y2="784" stroke-width="2.5" stroke-opacity="0.12"/>
<line x1="379" y1="728" x2="313" y2="784" stroke-width="1.0" stroke-opacity="0.36"/>
<line x1="379" y1="728" x2="415" y2="790" stroke-width="2.5" stroke-opacity="0.12"/>
<line x1="379" y1="728" x2="415" y2="790" stroke-width="1.0" stroke-opacity="0.36"/>
<line x1="379" y1="728" x2="587" y2="813" stroke-width="6" stroke-opacity="0.2"/>
<line x1="379" y1="728" x2="587" y2="813" stroke-width="3" stroke-opacity="0.35"/>
<line x1="379" y1="728" x2="587" y2="813" stroke-width="1.2" stroke-opacity="0.65"/>
<line x1="379" y1="728" x2="505" y2="847" stroke-width="2.5" stroke-opacity="0.12"/>
<line x1="379" y1="728" x2="505" y2="847" stroke-width="1.0" stroke-opacity="0.36"/>
<line x1="379" y1="728" x2="661" y2="851" stroke-width="2.5" stroke-opacity="0.12"/>
<line x1="379" y1="728" x2="661" y2="851" stroke-width="1.0" stroke-opacity="0.36"/>
<line x1="379" y1="728" x2="364" y2="872" stroke-width="2.5" stroke-opacity="0.12"/>
<line x1="379" y1="728" x2="364" y2="872" stroke-width="1.0" stroke-opacity="0.36"/>
<line x1="379" y1="728" x2="433" y2="863" stroke-width="2.5" stroke-opacity="0.12"/>
<line x1="379" y1="728" x2="433" y2="863" stroke-width="1.0" stroke-opacity="0.36"/>
<line x1="379" y1="728" x2="575" y2="895" stroke-width="2.5" stroke-opacity="0.12"/>
<line x1="379" y1="728" x2="575" y2="895" stroke-width="1.0" stroke-opacity="0.36"/>
<line x1="379" y1="728" x2="490" y2="933" stroke-width="2.5" stroke-opacity="0.12"/>
<line x1="379" y1="728" x2="490" y2="933" stroke-width="1.0" stroke-opacity="0.36"/>
<line x1="633" y1="745" x2="480" y2="747" stroke-width="2.5" stroke-opacity="0.12"/>
<line x1="633" y1="745" x2="480" y2="747" stroke-width="1.0" stroke-opacity="0.36"/>
<line x1="633" y1="745" x2="313" y2="784" stroke-width="2.5" stroke-opacity="0.12"/>
<line x1="633" y1="745" x2="313" y2="784" stroke-width="1.0" stroke-opacity="0.36"/>
<line x1="633" y1="745" x2="415" y2="790" stroke-width="2.5" stroke-opacity="0.12"/>
<line x1="633" y1="745" x2="415" y2="790" stroke-width="1.0" stroke-opacity="0.36"/>
<line x1="633" y1="745" x2="587" y2="813" stroke-width="2.5" stroke-opacity="0.12"/>
<line x1="633" y1="745" x2="587" y2="813" stroke-width="1.0" stroke-opacity="0.36"/>
<line x1="633" y1="745" x2="505" y2="847" stroke-width="2.5" stroke-opacity="0.12"/>
<line x1="633" y1="745" x2="505" y2="847" stroke-width="1.0" stroke-opacity="0.36"/>
<line x1="633" y1="745" x2="661" y2="851" stroke-width="2.5" stroke-opacity="0.12"/>
<line x1="633" y1="745" x2="661" y2="851" stroke-width="1.0" stroke-opacity="0.36"/>
<line x1="633" y1="745" x2="364" y2="872" stroke-width="2.5" stroke-opacity="0.12"/>
<line x1="633" y1="745" x2="364" y2="872" stroke-width="1.0" stroke-opacity="0.36"/>
<line x1="633" y1="745" x2="433" y2="863" stroke-width="2.5" stroke-opacity="0.12"/>
<line x1="633" y1="745" x2="433" y2="863" stroke-width="1.0" stroke-opacity="0.36"/>
<line x1="633" y1="745" x2="575" y2="895" stroke-width="2.5" stroke-opacity="0.12"/>
<line x1="633" y1="745" x2="575" y2="895" stroke-width="1.0" stroke-opacity="0.36"/>
<line x1="633" y1="745" x2="490" y2="933" stroke-width="2.5" stroke-opacity="0.12"/>
<line x1="633" y1="745" x2="490" y2="933" stroke-width="1.0" stroke-opacity="0.36"/>
<line x1="480" y1="747" x2="313" y2="784" stroke-width="2.5" stroke-opacity="0.12"/>
<line x1="480" y1="747" x2="313" y2="784" stroke-width="1.0" stroke-opacity="0.36"/>
<line x1="480" y1="747" x2="415" y2="790" stroke-width="2.5" stroke-opacity="0.12"/>
<line x1="480" y1="747" x2="415" y2="790" stroke-width="1.0" stroke-opacity="0.36"/>
<line x1="480" y1="747" x2="587" y2="813" stroke-width="6" stroke-opacity="0.2"/>
<line x1="480" y1="747" x2="587" y2="813" stroke-width="3" stroke-opacity="0.35"/>
<line x1="480" y1="747" x2="587" y2="813" stroke-width="1.2" stroke-opacity="0.65"/>
<line x1="480" y1="747" x2="505" y2="847" stroke-width="2.5" stroke-opacity="0.12"/>
<line x1="480" y1="747" x2="505" y2="847" stroke-width="1.0" stroke-opacity="0.36"/>
<line x1="480" y1="747" x2="661" y2="851" stroke-width="2.5" stroke-opacity="0.12"/>
<line x1="480" y1="747" x2="661" y2="851" stroke-width="1.0" stroke-opacity="0.36"/>
<line x1="480" y1="747" x2="364" y2="872" stroke-width="2.5" stroke-opacity="0.12"/>
<line x1="480" y1="747" x2="364" y2="872" stroke-width="1.0" stroke-opacity="0.36"/>
<line x1="480" y1="747" x2="433" y2="863" stroke-width="2.5" stroke-opacity="0.12"/>
<line x1="480" y1="747" x2="433" y2="863" stroke-width="1.0" stroke-opacity="0.36"/>
<line x1="480" y1="747" x2="575" y2="895" stroke-width="2.5" stroke-opacity="0.12"/>
<line x1="480" y1="747" x2="575" y2="895" stroke-width="1.0" stroke-opacity="0.36"/>
<line x1="480" y1="747" x2="490" y2="933" stroke-width="2.5" stroke-opacity="0.12"/>
<line x1="480" y1="747" x2="490" y2="933" stroke-width="1.0" stroke-opacity="0.36"/>
<line x1="313" y1="784" x2="415" y2="790" stroke-width="2.5" stroke-opacity="0.12"/>
<line x1="313" y1="784" x2="415" y2="790" stroke-width="1.0" stroke-opacity="0.36"/>
<line x1="313" y1="784" x2="587" y2="813" stroke-width="2.5" stroke-opacity="0.12"/>
<line x1="313" y1="784" x2="587" y2="813" stroke-width="1.0" stroke-opacity="0.36"/>
<line x1="313" y1="784" x2="505" y2="847" stroke-width="2.5" stroke-opacity="0.12"/>
<line x1="313" y1="784" x2="505" y2="847" stroke-width="1.0" stroke-opacity="0.36"/>
<line x1="313" y1="784" x2="661" y2="851" stroke-width="2.5" stroke-opacity="0.12"/>
<line x1="313" y1="784" x2="661" y2="851" stroke-width="1.0" stroke-opacity="0.36"/>
<line x1="313" y1="784" x2="364" y2="872" stroke-width="2.5" stroke-opacity="0.12"/>
<line x1="313" y1="784" x2="364" y2="872" stroke-width="1.0" stroke-opacity="0.36"/>
<line x1="313" y1="784" x2="433" y2="863" stroke-width="2.5" stroke-opacity="0.12"/>
<line x1="313" y1="784" x2="433" y2="863" stroke-width="1.0" stroke-opacity="0.36"/>
<line x1="313" y1="784" x2="575" y2="895" stroke-width="2.5" stroke-opacity="0.12"/>
<line x1="313" y1="784" x2="575" y2="895" stroke-width="1.0" stroke-opacity="0.36"/>
<line x1="313" y1="784" x2="490" y2="933" stroke-width="2.5" stroke-opacity="0.12"/>
<line x1="313" y1="784" x2="490" y2="933" stroke-width="1.0" stroke-opacity="0.36"/>
<line x1="415" y1="790" x2="587" y2="813" stroke-width="2.5" stroke-opacity="0.12"/>
<line x1="415" y1="790" x2="587" y2="813" stroke-width="1.0" stroke-opacity="0.36"/>
<line x1="415" y1="790" x2="505" y2="847" stroke-width="6" stroke-opacity="0.2"/>
<line x1="415" y1="790" x2="505" y2="847" stroke-width="3" stroke-opacity="0.35"/>
<line x1="415" y1="790" x2="505" y2="847" stroke-width="1.2" stroke-opacity="0.65"/>
<line x1="415" y1="790" x2="661" y2="851" stroke-width="2.5" stroke-opacity="0.12"/>
<line x1="415" y1="790" x2="661" y2="851" stroke-width="1.0" stroke-opacity="0.36"/>
<line x1="415" y1="790" x2="364" y2="872" stroke-width="2.5" stroke-opacity="0.12"/>
<line x1="415" y1="790" x2="364" y2="872" stroke-width="1.0" stroke-opacity="0.36"/>
<line x1="415" y1="790" x2="433" y2="863" stroke-width="2.5" stroke-opacity="0.12"/>
<line x1="415" y1="790" x2="433" y2="863" stroke-width="1.0" stroke-opacity="0.36"/>
<line x1="415" y1="790" x2="575" y2="895" stroke-width="2.5" stroke-opacity="0.12"/>
<line x1="415" y1="790" x2="575" y2="895" stroke-width="1.0" stroke-opacity="0.36"/>
<line x1="415" y1="790" x2="490" y2="933" stroke-width="2.5" stroke-opacity="0.12"/>
<line x1="415" y1="790" x2="490" y2="933" stroke-width="1.0" stroke-opacity="0.36"/>
<line x1="587" y1="813" x2="505" y2="847" stroke-width="2.5" stroke-opacity="0.12"/>
<line x1="587" y1="813" x2="505" y2="847" stroke-width="1.0" stroke-opacity="0.36"/>
<line x1="587" y1="813" x2="661" y2="851" stroke-width="2.5" stroke-opacity="0.12"/>
<line x1="587" y1="813" x2="661" y2="851" stroke-width="1.0" stroke-opacity="0.36"/>
<line x1="587" y1="813" x2="364" y2="872" stroke-width="2.5" stroke-opacity="0.12"/>
<line x1="587" y1="813" x2="364" y2="872" stroke-width="1.0" stroke-opacity="0.36"/>
<line x1="587" y1="813" x2="433" y2="863" stroke-width="2.5" stroke-opacity="0.12"/>
<line x1="587" y1="813" x2="433" y2="863" stroke-width="1.0" stroke-opacity="0.36"/>
<line x1="587" y1="813" x2="575" y2="895" stroke-width="2.5" stroke-opacity="0.12"/>
<line x1="587" y1="813" x2="575" y2="895" stroke-width="1.0" stroke-opacity="0.36"/>
<line x1="587" y1="813" x2="490" y2="933" stroke-width="2.5" stroke-opacity="0.12"/>
<line x1="587" y1="813" x2="490" y2="933" stroke-width="1.0" stroke-opacity="0.36"/>
<line x1="505" y1="847" x2="661" y2="851" stroke-width="2.5" stroke-opacity="0.12"/>
<line x1="505" y1="847" x2="661" y2="851" stroke-width="1.0" stroke-opacity="0.36"/>
<line x1="505" y1="847" x2="364" y2="872" stroke-width="2.5" stroke-opacity="0.12"/>
<line x1="505" y1="847" x2="364" y2="872" stroke-width="1.0" stroke-opacity="0.36"/>
<line x1="505" y1="847" x2="433" y2="863" stroke-width="2.5" stroke-opacity="0.12"/>
<line x1="505" y1="847" x2="433" y2="863" stroke-width="1.0" stroke-opacity="0.36"/>
<line x1="505" y1="847" x2="575" y2="895" stroke-width="6" stroke-opacity="0.2"/>
<line x1="505" y1="847" x2="575" y2="895" stroke-width="3" stroke-opacity="0.35"/>
<line x1="505" y1="847" x2="575" y2="895" stroke-width="1.2" stroke-opacity="0.65"/>
<line x1="505" y1="847" x2="490" y2="933" stroke-width="2.5" stroke-opacity="0.12"/>
<line x1="505" y1="847" x2="490" y2="933" stroke-width="1.0" stroke-opacity="0.36"/>
<line x1="661" y1="851" x2="364" y2="872" stroke-width="2.5" stroke-opacity="0.12"/>
<line x1="661" y1="851" x2="364" y2="872" stroke-width="1.0" stroke-opacity="0.36"/>
<line x1="661" y1="851" x2="433" y2="863" stroke-width="2.5" stroke-opacity="0.12"/>
<line x1="661" y1="851" x2="433" y2="863" stroke-width="1.0" stroke-opacity="0.36"/>
<line x1="661" y1="851" x2="575" y2="895" stroke-width="2.5" stroke-opacity="0.12"/>
<line x1="661" y1="851" x2="575" y2="895" stroke-width="1.0" stroke-opacity="0.36"/>
<line x1="661" y1="851" x2="490" y2="933" stroke-width="2.5" stroke-opacity="0.12"/>
<line x1="661" y1="851" x2="490" y2="933" stroke-width="1.0" stroke-opacity="0.36"/>
<line x1="364" y1="872" x2="433" y2="863" stroke-width="2.5" stroke-opacity="0.12"/>
<line x1="364" y1="872" x2="433" y2="863" stroke-width="1.0" stroke-opacity="0.36"/>
<line x1="364" y1="872" x2="575" y2="895" stroke-width="2.5" stroke-opacity="0.12"/>
<line x1="364" y1="872" x2="575" y2="895" stroke-width="1.0" stroke-opacity="0.36"/>
<line x1="364" y1="872" x2="490" y2="933" stroke-width="2.5" stroke-opacity="0.12"/>
<line x1="364" y1="872" x2="490" y2="933" stroke-width="1.0" stroke-opacity="0.36"/>
<line x1="433" y1="863" x2="575" y2="895" stroke-width="2.5" stroke-opacity="0.12"/>
<line x1="433" y1="863" x2="575" y2="895" stroke-width="1.0" stroke-opacity="0.36"/>
<line x1="433" y1="863" x2="490" y2="933" stroke-width="2.5" stroke-opacity="0.12"/>
<line x1="433" y1="863" x2="490" y2="933" stroke-width="1.0" stroke-opacity="0.36"/>
<line x1="575" y1="895" x2="490" y2="933" stroke-width="2.5" stroke-opacity="0.12"/>
<line x1="575" y1="895" x2="490" y2="933" stroke-width="1.0" stroke-opacity="0.36"/>
<line x1="340" y1="32" x2="610" y2="107" stroke-width="0.9" stroke-opacity="0.3"/>
<line x1="340" y1="32" x2="438" y2="470" stroke-width="0.9" stroke-opacity="0.3"/>
<line x1="340" y1="32" x2="594" y2="451" stroke-width="0.9" stroke-opacity="0.3"/>
<line x1="152" y1="166" x2="236" y2="170" stroke-width="1.3" stroke-opacity="0.6"/>
<line x1="152" y1="166" x2="244" y2="266" stroke-width="1.3" stroke-opacity="0.6"/>
<line x1="152" y1="166" x2="760" y2="585" stroke-width="1.3" stroke-opacity="0.6"/>
<line x1="152" y1="166" x2="718" y2="130" stroke-width="0.9" stroke-opacity="0.3"/>
<line x1="152" y1="166" x2="55" y2="431" stroke-width="0.9" stroke-opacity="0.3"/>
<line x1="152" y1="166" x2="121" y2="486" stroke-width="0.9" stroke-opacity="0.3"/>
<line x1="152" y1="166" x2="530" y2="136" stroke-width="0.9" stroke-opacity="0.3"/>
<line x1="152" y1="166" x2="254" y2="408" stroke-width="1.0" stroke-opacity="0.45"/>
<line x1="152" y1="166" x2="100" y2="368" stroke-width="4.5" stroke-opacity="0.18"/>
<line x1="152" y1="166" x2="100" y2="368" stroke-width="1.0" stroke-opacity="0.3"/>
<line x1="236" y1="170" x2="668" y2="193" stroke-width="0.9" stroke-opacity="0.3"/>
<line x1="236" y1="170" x2="123" y2="257" stroke-width="0.9" stroke-opacity="0.3"/>
<line x1="236" y1="170" x2="438" y2="470" stroke-width="0.9" stroke-opacity="0.3"/>
<line x1="236" y1="170" x2="357" y2="248" stroke-width="0.9" stroke-opacity="0.3"/>
<line x1="236" y1="170" x2="210" y2="337" stroke-width="1.0" stroke-opacity="0.45"/>
<line x1="236" y1="170" x2="121" y2="486" stroke-width="1.0" stroke-opacity="0.45"/>
<line x1="236" y1="170" x2="244" y2="266" stroke-width="1.3" stroke-opacity="0.6"/>
<line x1="43" y1="307" x2="668" y2="193" stroke-width="0.9" stroke-opacity="0.3"/>
<line x1="43" y1="307" x2="55" y2="431" stroke-width="0.9" stroke-opacity="0.3"/>
<line x1="43" y1="307" x2="123" y2="257" stroke-width="0.9" stroke-opacity="0.3"/>
<line x1="43" y1="307" x2="123" y2="257" stroke-width="0.9" stroke-opacity="0.3"/>
<line x1="43" y1="307" x2="210" y2="337" stroke-width="1.0" stroke-opacity="0.45"/>
<line x1="123" y1="257" x2="741" y2="240" stroke-width="0.9" stroke-opacity="0.3"/>
<line x1="123" y1="257" x2="664" y2="281" stroke-width="0.9" stroke-opacity="0.3"/>
<line x1="123" y1="257" x2="100" y2="368" stroke-width="0.9" stroke-opacity="0.3"/>
<line x1="123" y1="257" x2="548" y2="715" stroke-width="0.9" stroke-opacity="0.3"/>
<line x1="123" y1="257" x2="849" y2="625" stroke-width="1.3" stroke-opacity="0.6"/>
<line x1="123" y1="257" x2="55" y2="431" stroke-width="1.0" stroke-opacity="0.45"/>
<line x1="244" y1="266" x2="254" y2="408" stroke-width="1.3" stroke-opacity="0.6"/>
<line x1="244" y1="266" x2="123" y2="257" stroke-width="1.0" stroke-opacity="0.45"/>
<line x1="244" y1="266" x2="210" y2="337" stroke-width="1.0" stroke-opacity="0.45"/>
<line x1="244" y1="266" x2="357" y2="248" stroke-width="0.9" stroke-opacity="0.3"/>
<line x1="244" y1="266" x2="664" y2="281" stroke-width="0.9" stroke-opacity="0.3"/>
<line x1="244" y1="266" x2="43" y2="307" stroke-width="0.9" stroke-opacity="0.3"/>
<line x1="357" y1="248" x2="152" y2="166" stroke-width="0.9" stroke-opacity="0.3"/>
<line x1="357" y1="248" x2="123" y2="257" stroke-width="0.9" stroke-opacity="0.3"/>
<line x1="357" y1="248" x2="480" y2="747" stroke-width="0.9" stroke-opacity="0.3"/>
<line x1="357" y1="248" x2="668" y2="193" stroke-width="0.9" stroke-opacity="0.3"/>
<line x1="357" y1="248" x2="889" y2="337" stroke-width="0.9" stroke-opacity="0.3"/>
<line x1="357" y1="248" x2="530" y2="136" stroke-width="0.9" stroke-opacity="0.3"/>
<line x1="357" y1="248" x2="121" y2="486" stroke-width="4.5" stroke-opacity="0.18"/>
<line x1="357" y1="248" x2="121" y2="486" stroke-width="1.0" stroke-opacity="0.3"/>
<line x1="357" y1="248" x2="100" y2="368" stroke-width="4.5" stroke-opacity="0.18"/>
<line x1="357" y1="248" x2="100" y2="368" stroke-width="1.0" stroke-opacity="0.3"/>
<line x1="357" y1="248" x2="785" y2="667" stroke-width="1.3" stroke-opacity="0.6"/>
<line x1="55" y1="431" x2="610" y2="107" stroke-width="0.9" stroke-opacity="0.3"/>
<line x1="55" y1="431" x2="121" y2="486" stroke-width="0.9" stroke-opacity="0.3"/>
<line x1="55" y1="431" x2="121" y2="486" stroke-width="0.9" stroke-opacity="0.3"/>
<line x1="55" y1="431" x2="889" y2="337" stroke-width="0.9" stroke-opacity="0.3"/>
<line x1="55" y1="431" x2="100" y2="368" stroke-width="1.0" stroke-opacity="0.45"/>
<line x1="100" y1="368" x2="121" y2="486" stroke-width="4.5" stroke-opacity="0.18"/>
<line x1="100" y1="368" x2="121" y2="486" stroke-width="1.0" stroke-opacity="0.3"/>
<line x1="100" y1="368" x2="43" y2="307" stroke-width="1.0" stroke-opacity="0.45"/>
<line x1="121" y1="486" x2="123" y2="257" stroke-width="0.9" stroke-opacity="0.3"/>
<line x1="121" y1="486" x2="244" y2="266" stroke-width="0.9" stroke-opacity="0.3"/>
<line x1="121" y1="486" x2="313" y2="784" stroke-width="0.9" stroke-opacity="0.3"/>
<line x1="254" y1="408" x2="210" y2="337" stroke-width="1.0" stroke-opacity="0.45"/>
<line x1="254" y1="408" x2="123" y2="257" stroke-width="0.9" stroke-opacity="0.3"/>
<line x1="254" y1="408" x2="55" y2="431" stroke-width="0.9" stroke-opacity="0.3"/>
<line x1="254" y1="408" x2="121" y2="486" stroke-width="0.9" stroke-opacity="0.3"/>
<line x1="254" y1="408" x2="977" y2="348" stroke-width="0.9" stroke-opacity="0.3"/>
<line x1="254" y1="408" x2="433" y2="863" stroke-width="0.9" stroke-opacity="0.3"/>
<line x1="254" y1="408" x2="480" y2="747" stroke-width="0.9" stroke-opacity="0.3"/>
<line x1="313" y1="784" x2="121" y2="486" stroke-width="0.9" stroke-opacity="0.3"/>
<line x1="313" y1="784" x2="438" y2="470" stroke-width="0.9" stroke-opacity="0.3"/>
<line x1="379" y1="728" x2="152" y2="166" stroke-width="0.9" stroke-opacity="0.3"/>
<line x1="379" y1="728" x2="243" y2="612" stroke-width="0.9" stroke-opacity="0.3"/>
<line x1="814" y1="197" x2="872" y2="549" stroke-width="0.9" stroke-opacity="0.3"/>
<line x1="814" y1="197" x2="766" y2="500" stroke-width="0.9" stroke-opacity="0.3"/>
<line x1="741" y1="240" x2="548" y2="715" stroke-width="0.9" stroke-opacity="0.3"/>
<line x1="741" y1="240" x2="977" y2="348" stroke-width="0.9" stroke-opacity="0.3"/>
<line x1="633" y1="745" x2="760" y2="585" stroke-width="0.9" stroke-opacity="0.3"/>
<line x1="633" y1="745" x2="664" y2="281" stroke-width="0.9" stroke-opacity="0.3"/>
<line x1="785" y1="667" x2="438" y2="470" stroke-width="0.9" stroke-opacity="0.3"/>
<line x1="785" y1="667" x2="123" y2="257" stroke-width="0.9" stroke-opacity="0.3"/>
<line x1="889" y1="337" x2="977" y2="348" stroke-width="1.0" stroke-opacity="0.45"/>
<line x1="889" y1="337" x2="969" y2="498" stroke-width="1.0" stroke-opacity="0.45"/>
<line x1="919" y1="427" x2="969" y2="498" stroke-width="1.0" stroke-opacity="0.45"/>
<line x1="872" y1="549" x2="760" y2="585" stroke-width="1.0" stroke-opacity="0.45"/>
<line x1="977" y1="348" x2="919" y2="427" stroke-width="0.9" stroke-opacity="0.3"/>
<line x1="889" y1="337" x2="919" y2="427" stroke-width="1.3" stroke-opacity="0.6"/>
<line x1="766" y1="500" x2="872" y2="549" stroke-width="1.3" stroke-opacity="0.6"/>
<line x1="766" y1="500" x2="760" y2="585" stroke-width="1.3" stroke-opacity="0.6"/>
<line x1="766" y1="500" x2="849" y2="625" stroke-width="1.3" stroke-opacity="0.6"/>
<line x1="766" y1="500" x2="785" y2="667" stroke-width="1.3" stroke-opacity="0.6"/>
<line x1="872" y1="549" x2="849" y2="625" stroke-width="1.3" stroke-opacity="0.6"/>
<line x1="872" y1="549" x2="785" y2="667" stroke-width="1.3" stroke-opacity="0.6"/>
<line x1="760" y1="585" x2="785" y2="667" stroke-width="1.3" stroke-opacity="0.6"/>
<line x1="849" y1="625" x2="785" y2="667" stroke-width="1.3" stroke-opacity="0.6"/>
<line x1="977" y1="348" x2="969" y2="498" stroke-width="5" stroke-opacity="0.2"/>
<line x1="977" y1="348" x2="969" y2="498" stroke-width="2.2" stroke-opacity="0.5"/>
<line x1="977" y1="348" x2="969" y2="498" stroke-width="1" stroke-opacity="0.6"/>
<line x1="529" y1="444" x2="760" y2="585" stroke-width="7" stroke-opacity="0.15"/>
<line x1="529" y1="444" x2="760" y2="585" stroke-width="4" stroke-opacity="0.25"/>
<line x1="529" y1="444" x2="760" y2="585" stroke-width="1.5" stroke-opacity="0.7"/>
<line x1="514" y1="461" x2="760" y2="585" stroke-width="7" stroke-opacity="0.15"/>
<line x1="514" y1="461" x2="760" y2="585" stroke-width="4" stroke-opacity="0.25"/>
<line x1="514" y1="461" x2="760" y2="585" stroke-width="1.5" stroke-opacity="0.7"/>
<line x1="514" y1="461" x2="849" y2="625" stroke-width="7" stroke-opacity="0.15"/>
<line x1="514" y1="461" x2="849" y2="625" stroke-width="4" stroke-opacity="0.25"/>
<line x1="514" y1="461" x2="849" y2="625" stroke-width="1.5" stroke-opacity="0.7"/>
<line x1="514" y1="461" x2="766" y2="500" stroke-width="7" stroke-opacity="0.15"/>
<line x1="514" y1="461" x2="766" y2="500" stroke-width="4" stroke-opacity="0.25"/>
<line x1="514" y1="461" x2="766" y2="500" stroke-width="1.5" stroke-opacity="0.7"/>
<line x1="514" y1="461" x2="785" y2="667" stroke-width="7" stroke-opacity="0.15"/>
<line x1="514" y1="461" x2="785" y2="667" stroke-width="4" stroke-opacity="0.25"/>
<line x1="514" y1="461" x2="785" y2="667" stroke-width="1.5" stroke-opacity="0.7"/>
<line x1="529" y1="444" x2="766" y2="500" stroke-width="4" stroke-opacity="0.15"/>
<line x1="529" y1="444" x2="766" y2="500" stroke-width="2" stroke-opacity="0.3"/>
<line x1="529" y1="444" x2="766" y2="500" stroke-width="1.1" stroke-opacity="0.65"/>
<line x1="529" y1="444" x2="785" y2="667" stroke-width="4" stroke-opacity="0.15"/>
<line x1="529" y1="444" x2="785" y2="667" stroke-width="2" stroke-opacity="0.3"/>
<line x1="529" y1="444" x2="785" y2="667" stroke-width="1.1" stroke-opacity="0.65"/>
<line x1="529" y1="444" x2="872" y2="549" stroke-width="4" stroke-opacity="0.15"/>
<line x1="529" y1="444" x2="872" y2="549" stroke-width="2" stroke-opacity="0.3"/>
<line x1="529" y1="444" x2="872" y2="549" stroke-width="1.1" stroke-opacity="0.65"/>
<line x1="514" y1="461" x2="872" y2="549" stroke-width="4" stroke-opacity="0.15"/>
<line x1="514" y1="461" x2="872" y2="549" stroke-width="2" stroke-opacity="0.3"/>
<line x1="514" y1="461" x2="872" y2="549" stroke-width="1.1" stroke-opacity="0.65"/>
<line x1="529" y1="444" x2="969" y2="498" stroke-width="4" stroke-opacity="0.15"/>
<line x1="529" y1="444" x2="969" y2="498" stroke-width="2" stroke-opacity="0.3"/>
<line x1="529" y1="444" x2="969" y2="498" stroke-width="1.1" stroke-opacity="0.65"/>
<line x1="514" y1="461" x2="969" y2="498" stroke-width="4" stroke-opacity="0.15"/>
<line x1="514" y1="461" x2="969" y2="498" stroke-width="2" stroke-opacity="0.3"/>
<line x1="514" y1="461" x2="969" y2="498" stroke-width="1.1" stroke-opacity="0.65"/>
<line x1="529" y1="444" x2="889" y2="337" stroke-width="4" stroke-opacity="0.15"/>
<line x1="529" y1="444" x2="889" y2="337" stroke-width="2" stroke-opacity="0.3"/>
<line x1="529" y1="444" x2="889" y2="337" stroke-width="1.1" stroke-opacity="0.65"/>
<line x1="514" y1="461" x2="977" y2="348" stroke-width="4" stroke-opacity="0.15"/>
<line x1="514" y1="461" x2="977" y2="348" stroke-width="2" stroke-opacity="0.3"/>
<line x1="514" y1="461" x2="977" y2="348" stroke-width="1.1" stroke-opacity="0.65"/>
<line x1="529" y1="444" x2="919" y2="427" stroke-width="4" stroke-opacity="0.15"/>
<line x1="529" y1="444" x2="919" y2="427" stroke-width="2" stroke-opacity="0.3"/>
<line x1="529" y1="444" x2="919" y2="427" stroke-width="1.1" stroke-opacity="0.65"/>
<line x1="529" y1="444" x2="977" y2="348" stroke-width="4" stroke-opacity="0.15"/>
<line x1="529" y1="444" x2="977" y2="348" stroke-width="2" stroke-opacity="0.3"/>
<line x1="529" y1="444" x2="977" y2="348" stroke-width="1.1" stroke-opacity="0.65"/>
<line x1="153" y1="580" x2="514" y2="461" stroke-width="1.3" stroke-opacity="0.6"/>
<line x1="243" y1="612" x2="514" y2="461" stroke-width="1.3" stroke-opacity="0.6"/>
<line x1="154" y1="665" x2="529" y2="444" stroke-width="1.3" stroke-opacity="0.6"/>
<line x1="438" y1="470" x2="548" y2="715" stroke-width="0.9" stroke-opacity="0.3"/>
<line x1="438" y1="470" x2="379" y2="728" stroke-width="0.9" stroke-opacity="0.3"/>
<line x1="438" y1="470" x2="633" y2="745" stroke-width="0.9" stroke-opacity="0.3"/>
<line x1="438" y1="470" x2="480" y2="747" stroke-width="0.9" stroke-opacity="0.3"/>
<line x1="438" y1="470" x2="313" y2="784" stroke-width="0.9" stroke-opacity="0.3"/>
<line x1="438" y1="470" x2="415" y2="790" stroke-width="0.9" stroke-opacity="0.3"/>
<line x1="438" y1="470" x2="587" y2="813" stroke-width="0.9" stroke-opacity="0.3"/>
<line x1="438" y1="470" x2="505" y2="847" stroke-width="0.9" stroke-opacity="0.3"/>
<line x1="438" y1="470" x2="661" y2="851" stroke-width="0.9" stroke-opacity="0.3"/>
<line x1="438" y1="470" x2="364" y2="872" stroke-width="0.9" stroke-opacity="0.3"/>
<line x1="438" y1="470" x2="433" y2="863" stroke-width="0.9" stroke-opacity="0.3"/>
<line x1="438" y1="470" x2="575" y2="895" stroke-width="0.9" stroke-opacity="0.3"/>
<line x1="438" y1="470" x2="490" y2="933" stroke-width="0.9" stroke-opacity="0.3"/>
<line x1="210" y1="337" x2="785" y2="667" stroke-width="0.9" stroke-opacity="0.3"/>
<line x1="121" y1="486" x2="760" y2="585" stroke-width="0.9" stroke-opacity="0.3"/>
<line x1="741" y1="240" x2="490" y2="933" stroke-width="0.9" stroke-opacity="0.3"/>
<line x1="668" y1="193" x2="587" y2="813" stroke-width="0.9" stroke-opacity="0.3"/>
<line x1="581" y1="201" x2="575" y2="895" stroke-width="0.9" stroke-opacity="0.3"/>
<line x1="610" y1="107" x2="661" y2="851" stroke-width="0.9" stroke-opacity="0.3"/>
<line x1="655" y1="41" x2="548" y2="715" stroke-width="0.9" stroke-opacity="0.3"/>
<line x1="530" y1="136" x2="505" y2="847" stroke-width="0.9" stroke-opacity="0.3"/>
<line x1="574" y1="42" x2="480" y2="747" stroke-width="0.9" stroke-opacity="0.3"/>
<line x1="704" y1="74" x2="587" y2="813" stroke-width="0.9" stroke-opacity="0.3"/>
<line x1="594" y1="451" x2="313" y2="784" stroke-width="0.9" stroke-opacity="0.3"/>
<line x1="594" y1="451" x2="364" y2="872" stroke-width="0.9" stroke-opacity="0.3"/>
<line x1="594" y1="451" x2="379" y2="728" stroke-width="0.9" stroke-opacity="0.3"/>
<line x1="594" y1="451" x2="490" y2="933" stroke-width="0.9" stroke-opacity="0.3"/>
<line x1="594" y1="451" x2="505" y2="847" stroke-width="0.9" stroke-opacity="0.3"/>
<line x1="548" y1="715" x2="661" y2="851" stroke-width="7" stroke-opacity="0.2"/>
<line x1="548" y1="715" x2="661" y2="851" stroke-width="5" stroke-opacity="0.2"/>
<line x1="548" y1="715" x2="661" y2="851" stroke-width="3" stroke-opacity="0.2"/>
<line x1="548" y1="715" x2="661" y2="851" stroke-width="0.9" stroke-opacity="0.3"/>
<line x1="574" y1="42" x2="505" y2="847" stroke-width="4" stroke-opacity="0.15"/>
<line x1="574" y1="42" x2="505" y2="847" stroke-width="2" stroke-opacity="0.3"/>
<line x1="574" y1="42" x2="505" y2="847" stroke-width="1.1" stroke-opacity="0.65"/>
<line x1="530" y1="136" x2="529" y2="444" stroke-width="4" stroke-opacity="0.15"/>
<line x1="530" y1="136" x2="529" y2="444" stroke-width="2" stroke-opacity="0.3"/>
<line x1="530" y1="136" x2="529" y2="444" stroke-width="1.1" stroke-opacity="0.65"/>
<line x1="121" y1="486" x2="153" y2="580" stroke-width="0.9" stroke-opacity="0.3"/>
<line x1="121" y1="486" x2="243" y2="612" stroke-width="0.9" stroke-opacity="0.3"/>
<line x1="664" y1="281" x2="919" y2="427" stroke-width="0.9" stroke-opacity="0.3"/>
<line x1="594" y1="451" x2="574" y2="42" stroke-width="0.9" stroke-opacity="0.3"/>
<line x1="594" y1="451" x2="655" y2="41" stroke-width="0.9" stroke-opacity="0.3"/>
<line x1="594" y1="451" x2="786" y2="56" stroke-width="0.9" stroke-opacity="0.3"/>
<line x1="594" y1="451" x2="704" y2="74" stroke-width="0.9" stroke-opacity="0.3"/>
<line x1="594" y1="451" x2="610" y2="107" stroke-width="0.9" stroke-opacity="0.3"/>
<line x1="594" y1="451" x2="530" y2="136" stroke-width="0.9" stroke-opacity="0.3"/>
<line x1="594" y1="451" x2="718" y2="130" stroke-width="0.9" stroke-opacity="0.3"/>
<line x1="594" y1="451" x2="816" y2="130" stroke-width="0.9" stroke-opacity="0.3"/>
<line x1="594" y1="451" x2="581" y2="201" stroke-width="0.9" stroke-opacity="0.3"/>
<line x1="594" y1="451" x2="668" y2="193" stroke-width="0.9" stroke-opacity="0.3"/>
<line x1="594" y1="451" x2="814" y2="197" stroke-width="0.9" stroke-opacity="0.3"/>
<line x1="594" y1="451" x2="741" y2="240" stroke-width="0.9" stroke-opacity="0.3"/>
<line x1="594" y1="451" x2="664" y2="281" stroke-width="0.9" stroke-opacity="0.3"/>
<line x1="594" y1="451" x2="969" y2="498" stroke-width="1.0" stroke-opacity="0.45"/>
<line x1="594" y1="451" x2="766" y2="500" stroke-width="1.0" stroke-opacity="0.45"/>
<line x1="594" y1="451" x2="919" y2="427" stroke-width="1.0" stroke-opacity="0.45"/>
<line x1="594" y1="451" x2="889" y2="337" stroke-width="1.0" stroke-opacity="0.45"/>
<line x1="633" y1="745" x2="661" y2="851" stroke-width="6" stroke-opacity="0.15"/>
<line x1="633" y1="745" x2="661" y2="851" stroke-width="3" stroke-opacity="0.15"/>
<line x1="633" y1="745" x2="661" y2="851" stroke-width="1.2" stroke-opacity="0.15"/>
<line x1="152" y1="166" x2="210" y2="337" stroke-width="0.9" stroke-opacity="0.3"/>
<line x1="236" y1="170" x2="100" y2="368" stroke-width="0.9" stroke-opacity="0.3"/>
<line x1="236" y1="170" x2="254" y2="408" stroke-width="0.9" stroke-opacity="0.3"/>
<line x1="236" y1="170" x2="55" y2="431" stroke-width="0.9" stroke-opacity="0.3"/>
<line x1="357" y1="248" x2="210" y2="337" stroke-width="0.9" stroke-opacity="0.3"/>
<line x1="357" y1="248" x2="254" y2="408" stroke-width="0.9" stroke-opacity="0.3"/>
<line x1="357" y1="248" x2="55" y2="431" stroke-width="0.9" stroke-opacity="0.3"/>
<line x1="123" y1="257" x2="210" y2="337" stroke-width="0.9" stroke-opacity="0.3"/>
<line x1="244" y1="266" x2="100" y2="368" stroke-width="0.9" stroke-opacity="0.3"/>
<line x1="244" y1="266" x2="55" y2="431" stroke-width="0.9" stroke-opacity="0.3"/>
<line x1="43" y1="307" x2="254" y2="408" stroke-width="0.9" stroke-opacity="0.3"/>
<line x1="210" y1="337" x2="100" y2="368" stroke-width="0.9" stroke-opacity="0.3"/>
<line x1="210" y1="337" x2="55" y2="431" stroke-width="0.9" stroke-opacity="0.3"/>
<line x1="210" y1="337" x2="121" y2="486" stroke-width="0.9" stroke-opacity="0.3"/>
<line x1="100" y1="368" x2="254" y2="408" stroke-width="0.9" stroke-opacity="0.3"/>
<line x1="100" y1="368" x2="236" y2="170" stroke-width="1.3" stroke-opacity="0.6"/>
<line x1="43" y1="307" x2="514" y2="461" stroke-width="1.3" stroke-opacity="0.6"/>
<line x1="43" y1="307" x2="529" y2="444" stroke-width="1.3" stroke-opacity="0.6"/>
<line x1="43" y1="307" x2="254" y2="408" stroke-width="1.0" stroke-opacity="0.45"/>
<line x1="154" y1="665" x2="438" y2="470" stroke-width="24" stroke-opacity="0.17"/>
<line x1="154" y1="665" x2="438" y2="470" stroke-width="15" stroke-opacity="0.17"/>
<line x1="154" y1="665" x2="438" y2="470" stroke-width="8" stroke-opacity="0.17"/>
<line x1="154" y1="665" x2="438" y2="470" stroke-width="4" stroke-opacity="0.17"/>
<line x1="154" y1="665" x2="438" y2="470" stroke-width="2" stroke-opacity="0.17"/>
<line x1="154" y1="665" x2="438" y2="470" stroke-width="1" stroke-opacity="0.17"/>
<line x1="243" y1="612" x2="438" y2="470" stroke-width="26" stroke-opacity="0.17"/>
<line x1="243" y1="612" x2="438" y2="470" stroke-width="18" stroke-opacity="0.17"/>
<line x1="243" y1="612" x2="438" y2="470" stroke-width="10" stroke-opacity="0.17"/>
<line x1="243" y1="612" x2="438" y2="470" stroke-width="5" stroke-opacity="0.17"/>
<line x1="243" y1="612" x2="438" y2="470" stroke-width="2.5" stroke-opacity="0.17"/>
<line x1="243" y1="612" x2="438" y2="470" stroke-width="1.2" stroke-opacity="0.17"/>
<line x1="243" y1="612" x2="529" y2="444" stroke-width="20" stroke-opacity="0.17"/>
<line x1="243" y1="612" x2="529" y2="444" stroke-width="12" stroke-opacity="0.17"/>
<line x1="243" y1="612" x2="529" y2="444" stroke-width="5" stroke-opacity="0.17"/>
<line x1="243" y1="612" x2="529" y2="444" stroke-width="1.5" stroke-opacity="0.17"/>
<line x1="243" y1="612" x2="529" y2="444" stroke-width="1" stroke-opacity="0.17"/>
<line x1="154" y1="665" x2="514" y2="461" stroke-width="10" stroke-opacity="0.17"/>
<line x1="154" y1="665" x2="514" y2="461" stroke-width="4" stroke-opacity="0.17"/>
<line x1="154" y1="665" x2="514" y2="461" stroke-width="1.2" stroke-opacity="0.17"/>
<line x1="153" y1="580" x2="438" y2="470" stroke-width="13" stroke-opacity="0.17"/>
<line x1="153" y1="580" x2="438" y2="470" stroke-width="9" stroke-opacity="0.17"/>
<line x1="153" y1="580" x2="438" y2="470" stroke-width="5" stroke-opacity="0.17"/>
<line x1="153" y1="580" x2="438" y2="470" stroke-width="2.5" stroke-opacity="0.17"/>
<line x1="153" y1="580" x2="438" y2="470" stroke-width="1.2" stroke-opacity="0.17"/>
<line x1="153" y1="580" x2="438" y2="470" stroke-width="0.8" stroke-opacity="0.17"/>
<line x1="153" y1="580" x2="154" y2="665" stroke-width="15" stroke-opacity="0.17"/>
<line x1="153" y1="580" x2="154" y2="665" stroke-width="11" stroke-opacity="0.17"/>
<line x1="153" y1="580" x2="154" y2="665" stroke-width="7" stroke-opacity="0.17"/>
<line x1="153" y1="580" x2="154" y2="665" stroke-width="4" stroke-opacity="0.17"/>
<line x1="153" y1="580" x2="154" y2="665" stroke-width="2" stroke-opacity="0.17"/>
<line x1="153" y1="580" x2="154" y2="665" stroke-width="1" stroke-opacity="0.17"/>
<line x1="153" y1="580" x2="243" y2="612" stroke-width="15" stroke-opacity="0.17"/>
<line x1="153" y1="580" x2="243" y2="612" stroke-width="9" stroke-opacity="0.17"/>
<line x1="153" y1="580" x2="243" y2="612" stroke-width="5" stroke-opacity="0.17"/>
<line x1="153" y1="580" x2="243" y2="612" stroke-width="2.5" stroke-opacity="0.17"/>
<line x1="153" y1="580" x2="243" y2="612" stroke-width="1.2" stroke-opacity="0.17"/>
<line x1="243" y1="612" x2="154" y2="665" stroke-width="10" stroke-opacity="0.17"/>
<line x1="243" y1="612" x2="154" y2="665" stroke-width="6" stroke-opacity="0.17"/>
<line x1="243" y1="612" x2="154" y2="665" stroke-width="3" stroke-opacity="0.17"/>
<line x1="243" y1="612" x2="154" y2="665" stroke-width="1.5" stroke-opacity="0.17"/>
</g><g>
<circle cx="340" cy="32" r="11.8" fill="#D66DE3"/>
<circle cx="574" cy="42" r="11.8" fill="#72BCC5"/>
<circle cx="655" cy="41" r="11.8" fill="#7C9BFF"/>
<circle cx="786" cy="56" r="11.8" fill="#D66DE3"/>
<circle cx="704" cy="74" r="11.8" fill="#D66DE3"/>
<circle cx="610" cy="107" r="11.8" fill="#D66DE3"/>
<circle cx="530" cy="136" r="11.8" fill="#7C9BFF"/>
<circle cx="718" cy="130" r="11.8" fill="#7C9BFF"/>
<circle cx="816" cy="130" r="11.8" fill="#72BCC5"/>
<circle cx="581" cy="201" r="11.8" fill="#6FB841"/>
<circle cx="668" cy="193" r="11.8" fill="#D66DE3"/>
<circle cx="814" cy="197" r="11.8" fill="#7C9BFF"/>
<circle cx="741" cy="240" r="11.8" fill="#72BCC5"/>
<circle cx="664" cy="281" r="11.8" fill="#7C9BFF"/>
<circle cx="152" cy="166" r="11.8" fill="#72BCC5"/>
<circle cx="236" cy="170" r="11.8" fill="#72BCC5"/>
<circle cx="357" cy="248" r="11.8" fill="#72BCC5"/>
<circle cx="123" cy="257" r="11.8" fill="#72BCC5"/>
<circle cx="244" cy="266" r="11.8" fill="#72BCC5"/>
<circle cx="43" cy="307" r="11.8" fill="#72BCC5"/>
<circle cx="210" cy="337" r="11.8" fill="#72BCC5"/>
<circle cx="100" cy="368" r="11.8" fill="#6FB841"/>
<circle cx="254" cy="408" r="11.8" fill="#72BCC5"/>
<circle cx="55" cy="431" r="11.8" fill="#6FB841"/>
<circle cx="121" cy="486" r="11.8" fill="#72BCC5"/>
<circle cx="529" cy="444" r="11.8" fill="#D87B69"/>
<circle cx="514" cy="461" r="11.8" fill="#D87B69"/>
<circle cx="438" cy="470" r="11.8" fill="#D66DE3"/>
<circle cx="594" cy="451" r="11.8" fill="#AF9E12"/>
<circle cx="889" cy="337" r="11.8" fill="#72BCC5"/>
<circle cx="977" cy="348" r="11.8" fill="#AF9E12"/>
<circle cx="919" cy="427" r="11.8" fill="#AF9E12"/>
<circle cx="969" cy="498" r="11.8" fill="#AF9E12"/>
<circle cx="766" cy="500" r="11.8" fill="#D87B69"/>
<circle cx="872" cy="549" r="11.8" fill="#D87B69"/>
<circle cx="760" cy="585" r="11.8" fill="#D87B69"/>
<circle cx="849" cy="625" r="11.8" fill="#D87B69"/>
<circle cx="785" cy="667" r="11.8" fill="#D87B69"/>
<circle cx="153" cy="580" r="11.8" fill="#D66DE3"/>
<circle cx="243" cy="612" r="11.8" fill="#D66DE3"/>
<circle cx="154" cy="665" r="11.8" fill="#6FB841"/>
<circle cx="548" cy="715" r="11.8" fill="#AF9E12"/>
<circle cx="379" cy="728" r="11.8" fill="#D66DE3"/>
<circle cx="633" cy="745" r="11.8" fill="#D66DE3"/>
<circle cx="480" cy="747" r="11.8" fill="#AF9E12"/>
<circle cx="313" cy="784" r="11.8" fill="#6FB841"/>
<circle cx="415" cy="790" r="11.8" fill="#AF9E12"/>
<circle cx="587" cy="813" r="11.8" fill="#AF9E12"/>
<circle cx="505" cy="847" r="11.8" fill="#D66DE3"/>
<circle cx="661" cy="851" r="11.8" fill="#AF9E12"/>
<circle cx="364" cy="872" r="11.8" fill="#AF9E12"/>
<circle cx="433" cy="863" r="11.8" fill="#AF9E12"/>
<circle cx="575" cy="895" r="11.8" fill="#AF9E12"/>
<circle cx="490" cy="933" r="11.8" fill="#AF9E12"/>
</g>
<g font-family="Liberation Sans, sans-serif" fill="#000">
<text x="1077.6" y="137.6" font-size="36.5">Department</text>
<circle cx="1109" cy="187.3" r="11.65" fill="#D87B69"/>
<text x="1155" y="199.0" font-size="28.3">Administration</text>
<circle cx="1109" cy="244.9" r="11.65" fill="#AF9E12"/>
<text x="1155" y="256.6" font-size="28.3">Engineering</text>
<circle cx="1109" cy="302.6" r="11.65" fill="#6FB841"/>
<text x="1155" y="314.3" font-size="28.3">Executive</text>
<circle cx="1109" cy="360.2" r="11.65" fill="#72BCC5"/>
<text x="1155" y="371.9" font-size="28.3">Facilities</text>
<circle cx="1109" cy="417.9" r="11.65" fill="#7C9BFF"/>
<text x="1155" y="429.6" font-size="28.3">Information Technology</text>
<circle cx="1109" cy="475.6" r="11.65" fill="#D66DE3"/>
<text x="1155" y="487.2" font-size="28.3">Security</text>
<text x="1077.6" y="609.2" font-size="36.5">Weight</text>
<rect x="1084.5" y="657.0" width="46.2" height="4.6" fill="#cacaca"/>
<text x="1155" y="671.5" font-size="28.3">5</text>
<rect x="1084.5" y="710.8" width="46.2" height="13.1" fill="#cacaca"/>
<text x="1155" y="728.9" font-size="28.3">10</text>
<rect x="1084.5" y="764.4" width="46.2" height="21" fill="#cacaca"/>
<text x="1155" y="786.3" font-size="28.3">15</text>
<rect x="1084.5" y="816.9" width="46.2" height="29.4" fill="#cacaca"/>
<text x="1155" y="844" font-size="28.3">20</text>
</g></svg></body></html>
